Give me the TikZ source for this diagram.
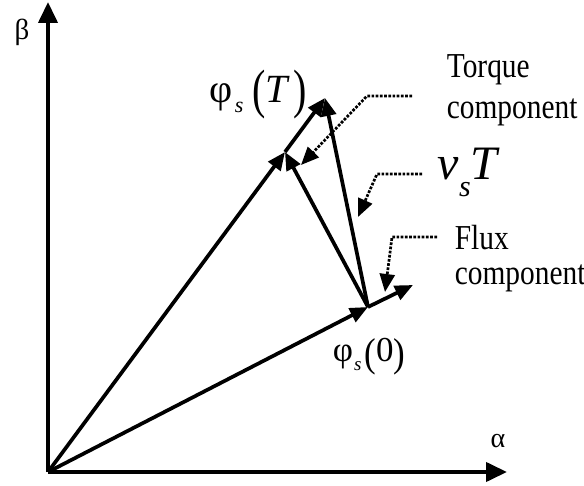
\documentclass[tikz,border=0pt]{standalone}
\usepackage{fontspec}
\setmainfont{Liberation Serif}
\usepackage{graphicx}
\usetikzlibrary{arrows.meta}

\newcommand{\narrowtxt}[1]{\scalebox{0.84}[1]{#1}}
\newcommand{\lpar}[1]{\raisebox{-0.12em}{\scalebox{1}[#1]{(}}}
\newcommand{\rpar}[1]{\raisebox{-0.12em}{\scalebox{1}[#1]{)}}}
\newcommand{\fsub}[2]{\raisebox{#2}{\fontsize{#1}{#1}\selectfont\itshape s}}

\begin{document}
\begin{tikzpicture}[x=1pt, y=-1pt, line width=3.7pt, -{Triangle[length=18pt,width=15pt]},
                axis/.style={line width=4pt, -{Triangle[length=21pt,width=19pt]}},
                pointer/.style={line width=2.7pt, dash pattern=on 2.7pt off 1.5pt},
                lbl/.style={anchor=base west, inner sep=0pt}]
                \useasboundingbox (0,0) rectangle (584,486);
                \coordinate (Oc) at (48,472);
                \coordinate (Ac) at (507,472);
                \coordinate (Bc) at (48,2);
                \coordinate (P0c) at (368,307);
                \coordinate (PTc) at (325,98);
                \coordinate (Mc) at (285,152);
                \coordinate (Fc) at (413,285);
                \node[font=\fontsize{29}{29}\selectfont] (betac) at (22,32) {β};
                \node[font=\fontsize{28}{28}\selectfont] (alphac) at (498,441) {α};
                \node[lbl, font=\fontsize{40}{40}\selectfont] (phiTc) at (208,103)
                    {φ\kern2pt\fsub{22}{-0.23em}\kern9pt\lpar{1.35}\textit{T}\kern3pt\rpar{1.35}};
                \node[lbl, font=\fontsize{35}{35}\selectfont] (phi0c) at (331,362)
                    {φ\kern1pt\fsub{19}{-0.23em}\kern3pt\lpar{1.15}0\rpar{1.15}};
                \node[lbl, font=\fontsize{48}{48}\selectfont] (vsTc) at (436,180)
                    {\textit{v}\fsub{30}{-0.35em}\textit{T}};
                \node[lbl, font=\fontsize{35}{35}\selectfont] (torqc) at (445,78) {\narrowtxt{Torque}};
                \node[lbl, font=\fontsize{35}{35}\selectfont] (torqbc) at (445,119) {\narrowtxt{component}};
                \node[lbl, font=\fontsize{35}{35}\selectfont] (fluxc) at (453,250) {\narrowtxt{Flux}};
                \node[lbl, font=\fontsize{35}{35}\selectfont] (fluxbc) at (453,285) {\narrowtxt{component}};
                \coordinate (tq1) at (412,96);
                \coordinate (tq2) at (367,96);
                \coordinate (tq3) at (301,165);
                \coordinate (vt1) at (422,174);
                \coordinate (vt2) at (377,174);
                \coordinate (vt3) at (358,217);
                \coordinate (fx1) at (437,237);
                \coordinate (fx2) at (392,237);
                \coordinate (fx3) at (385,292);
                \draw[axis] (Oc) -- (Ac);
                \draw[axis] (Oc) -- (Bc);
                \draw (Oc) -- (P0c);
                \draw (P0c) -- (Fc);
                \draw (Oc) -- (Mc);
                \draw (Mc) -- (PTc);
                \draw (P0c) -- (Mc);
                \draw (P0c) -- (PTc);
                \draw[pointer] (tq1) -- (tq2) -- (tq3);
                \draw[pointer] (vt1) -- (vt2) -- (vt3);
                \draw[pointer] (fx1) -- (fx2) -- (fx3);
            \end{tikzpicture}
\end{document}
